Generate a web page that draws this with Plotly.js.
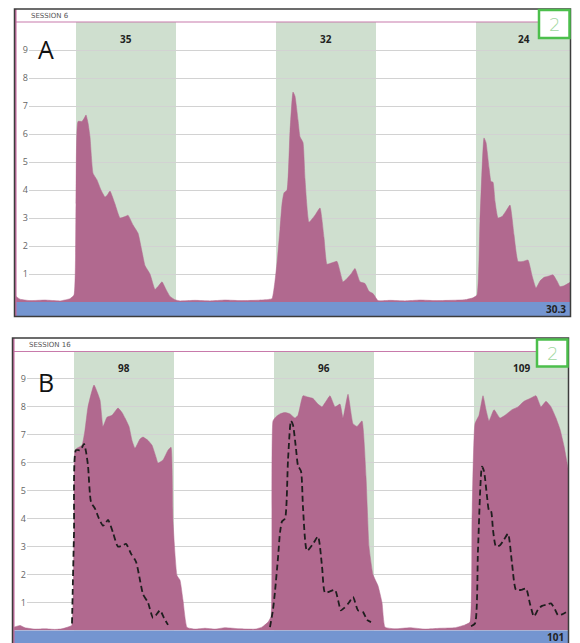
<!DOCTYPE html>
<html><head><meta charset="utf-8">
<script src="https://cdn.plot.ly/plotly-3.0.1.min.js"></script>
<style>html,body{margin:0;padding:0;background:#fff;} #chart{width:580px;height:643px;}</style>
</head><body><div id="chart"></div>
<script>
// ---------------- data ----------------
const sessionLabels = ['SESSION 6', 'SESSION 16'];
const panelLetters = ['A', 'B'];
const trialStarts = [12, 52, 92];
const trialDuration = 20;
const timeMax = 111;
const trialValuesA = [35, 32, 24];
const trialValuesB = [98, 96, 109];
const summaryA = '30.3';
const summaryB = '101';
const yTickVals = [1, 2, 3, 4, 5, 6, 7, 8, 9];
const yRange = [0, 10];
const boxDigit = '2';

// session 6 (panel A; also the dashed overlay in panel B)
const timeA = [0,0.8,2.8,5.8,8.8,10.8,11.6,12,12.4,13.2,13.6,14,14.4,14.8,15.4,16.2,17,17.8,18.2,18.8,19.8,20.8,21.8,22.4,23.4,24.4,25.2,25.8,26.8,27.8,28.4,29.2,30,30.8,31.8,32.8,35.8,38.8,41.8,44.8,47.8,49.8,51.2,51.8,52.2,52.8,53.2,53.6,54.2,54.8,55.4,55.8,56.4,56.8,57.4,57.8,58.6,59.8,60.8,61.6,62.2,63.2,64.2,65.4,66,67,67.8,68.8,69.8,70.6,71.4,72.4,74.8,77.8,80.8,83.8,86.8,89.8,91.4,92.2,92.8,93.6,94,94.6,95,95.4,95.8,96.4,97.2,98,98.8,99.6,100.4,101.4,102.4,103.2,104,104.8,105.6,106.6,107.4,108.2,108.8,109.6,111];
const valuesA = [0.2,0.1,0.05,0.07,0.04,0.12,0.25,3.5,6.45,6.45,6.55,6.68,6.4,5.9,4.6,4.36,4.0,3.75,3.8,3.96,3.5,3.0,3.05,3.1,2.75,2.46,1.8,1.3,1.0,0.45,0.55,0.72,0.45,0.2,0.08,0.04,0.06,0.04,0.07,0.05,0.06,0.08,0.12,0.75,1.4,2.6,3.5,3.9,4.0,6.1,7.5,7.35,6.5,5.9,5.7,4.4,2.85,3.1,3.36,2.3,1.35,1.4,1.45,0.72,0.8,1.0,1.2,0.72,0.66,0.38,0.3,0.05,0.06,0.04,0.07,0.05,0.06,0.08,0.15,0.25,2.9,5.86,5.7,4.8,4.3,4.28,3.6,3.0,3.05,3.25,3.46,2.4,1.45,1.45,1.5,0.95,0.5,0.75,0.88,0.93,0.97,0.75,0.55,0.58,0.72];

// session 16 (panel B)
const timeB = [0,1.2,2.2,4.2,6.2,8.2,9.6,11.2,11.6,12,12.2,12.6,13.6,14.2,14.8,16,17.2,17.8,18.6,19.6,20.8,21.6,22.2,23,23.6,24.2,25.2,25.8,26.8,27.6,28.4,28.8,29.8,30.8,31.4,31.8,32.6,33.2,33.8,34.6,36.2,38.2,40.2,42.2,45.2,48.2,49.6,50.8,51.4,51.8,52.4,53.2,54.2,55.2,56.2,56.8,57.8,58.8,59.8,60.8,61.6,62.4,63.2,64.2,65.2,65.8,66.8,67.8,68.6,69.6,70.4,71,71.8,72.8,73.6,74.2,76.2,79.2,82.2,85.2,88.2,90.2,91.2,91.6,92.2,93,93.8,94.4,95,96,97.2,98.2,99.6,100.8,102,103.2,104.4,105.4,106.4,107.4,108.4,109.2,110,111];
const valuesB = [0.12,0.18,0.1,0.05,0.06,0.04,0.06,0.15,0.2,3.5,6.45,6.52,6.63,7.17,8.0,8.78,8.24,7.3,7.63,7.7,7.96,7.8,7.6,7.3,6.8,6.52,6.85,6.92,6.8,6.63,6.2,5.99,6.1,6.45,6.56,3.9,1.97,1.8,1.08,0.11,0.05,0.08,0.05,0.1,0.06,0.05,0.12,0.3,0.5,7.5,7.65,7.75,7.8,7.75,7.6,7.7,8.4,8.35,8.3,8.1,8.0,8.2,8.4,8.0,8.1,7.6,8.45,7.4,7.3,7.5,5.5,3.0,2.0,1.6,1.0,0.12,0.06,0.1,0.05,0.08,0.1,0.2,0.3,4.0,7.4,7.7,8.4,7.9,7.5,7.9,7.6,7.7,7.9,8.0,8.2,8.3,8.4,8.0,8.2,8.0,7.6,7.2,6.6,5.6];

// ---------------- styling / geometry ----------------
const W = 580, H = 643;
const PINK = '#b1698f', GREEN_BAND = '#cfdfcf', BLUE = '#7495d0';
const FRAME = '#3c3c3c', PINK_LINE = '#c87aab', BOX_GREEN = '#4cbf4c';
const fx = p => p / W;
const fy = p => 1 - p / H;

const panels = [
  {frameL: 14.5, frameR: 570.5, frameT: 9, frameB: 316.5, header: 22, dataL: 16, gridL: 29, right: 571,
   plotT: 22, plotB: 302, barB: 316, boxL: 539, boxR: 569.5, boxT: 10, boxB: 38,
   ids: ['', '2'], time: timeA, values: valuesA, trialVals: trialValuesA, summary: summaryA,
   session: sessionLabels[0], letter: panelLetters[0], sessionX: 29, sessionY: 15.5, letterX: 46.5, letterY: 49, numY: 38.5},
  {frameL: 12.5, frameR: 568.5, frameT: 338, frameB: 644, header: 351.5, dataL: 14, gridL: 27, right: 569,
   plotT: 351, plotB: 630.5, barB: 643, boxL: 537, boxR: 567.5, boxT: 339.5, boxB: 366.5,
   ids: ['3', '4'], time: timeB, values: valuesB, trialVals: trialValuesB, summary: summaryB,
   session: sessionLabels[1], letter: panelLetters[1], sessionX: 27, sessionY: 344.5, letterX: 46, letterY: 382, numY: 367.5}
];

// dashed overlay (session 6 during trials), shown in panel B
const dashedY = timeA.map((t, i) => trialStarts.some(s => t >= s - 1 && t <= s + trialDuration - 0.5) ? valuesA[i] : null);

const traces = [];
const layout = {
  width: W, height: H, margin: {l: 0, r: 0, t: 0, b: 0},
  paper_bgcolor: '#ffffff', plot_bgcolor: 'rgba(0,0,0,0)', showlegend: false,
  shapes: [], annotations: []
};

const hiddenX = {showgrid: false, zeroline: false, showline: false, showticklabels: false, ticks: '', fixedrange: true};

panels.forEach((p, k) => {
  const [g, d] = p.ids;
  const gx = 'x' + g, gy = 'y' + g, dx = 'x' + d, dy = 'y' + d;
  const ydom = [fy(p.plotB), fy(p.plotT)];
  const pxPerUnit = (p.right - p.dataL) / timeMax;
  const gridStart = (p.gridL - p.dataL) / pxPerUnit;

  layout['xaxis' + g] = Object.assign({}, hiddenX, {domain: [fx(p.gridL), fx(p.right)], range: [gridStart, timeMax], anchor: gy});
  layout['yaxis' + g] = {domain: ydom, range: yRange, anchor: gx, tickmode: 'array', tickvals: yTickVals,
    showgrid: true, gridcolor: '#d2d2d2', gridwidth: 1, zeroline: false, showline: false, ticks: '',
    tickfont: {family: 'Open Sans', size: 9, color: '#666'}, fixedrange: true};
  layout['xaxis' + d] = Object.assign({}, hiddenX, {domain: [fx(p.dataL), fx(p.right)], range: [0, timeMax], anchor: dy});
  layout['yaxis' + d] = Object.assign({}, hiddenX, {domain: ydom, range: yRange, anchor: dx});

  // grid subplot placeholder trace (drawn first)
  traces.push({x: [], y: [], xaxis: gx, yaxis: gy, type: 'scatter', mode: 'lines', hoverinfo: 'skip'});
  // area
  traces.push({x: p.time, y: p.values, xaxis: dx, yaxis: dy, type: 'scatter', mode: 'lines',
    fill: 'tozeroy', fillcolor: PINK, line: {color: PINK, width: 0.5, shape: 'spline', smoothing: 0.4}, hoverinfo: 'skip'});
  if (k === 1) {
    traces.push({x: timeA, y: dashedY, xaxis: dx, yaxis: dy, type: 'scatter', mode: 'lines', connectgaps: false,
      line: {color: '#1e1e1e', width: 1.8, dash: '6px,3.5px', shape: 'spline', smoothing: 0.6}, hoverinfo: 'skip'});
  }

  // trial bands + counts
  trialStarts.forEach((s, i) => {
    const e = Math.min(s + trialDuration, timeMax);
    layout.shapes.push({type: 'rect', xref: gx, yref: gy, x0: s, x1: e, y0: yRange[0], y1: yRange[1],
      fillcolor: GREEN_BAND, line: {width: 0}, layer: 'below'});
    layout.annotations.push({xref: dx, yref: 'paper', x: (s + e) / 2, y: fy(p.numY), text: String(p.trialVals[i]),
      showarrow: false, xanchor: 'center', yanchor: 'middle', font: {family: 'Open Sans', size: 10, color: '#222', weight: 700}});
  });

  // summary bar
  layout.shapes.push({type: 'rect', xref: 'paper', yref: 'paper', x0: fx(p.dataL), x1: fx(p.frameR), y0: fy(p.barB), y1: fy(p.plotB),
    fillcolor: BLUE, line: {width: 0}, layer: 'above'});
  layout.annotations.push({xref: 'paper', yref: 'paper', x: fx(p.frameR - 3), y: fy((p.plotB + p.barB) / 2), text: p.summary,
    showarrow: false, xanchor: 'right', yanchor: 'middle', font: {family: 'Open Sans', size: 10, color: '#222', weight: 700}});

  // header separator and left pink line
  layout.shapes.push({type: 'line', xref: 'paper', yref: 'paper', x0: fx(p.dataL), x1: fx(p.boxL), y0: fy(p.header), y1: fy(p.header),
    line: {color: PINK_LINE, width: 1.2}, layer: 'above'});
  layout.shapes.push({type: 'line', xref: 'paper', yref: 'paper', x0: fx(p.frameL + 1.3), x1: fx(p.frameL + 1.3), y0: fy(p.frameT), y1: fy(p.frameB),
    line: {color: '#c56b9f', width: 1.5}, layer: 'above'});
  // outer frame
  layout.shapes.push({type: 'rect', xref: 'paper', yref: 'paper', x0: fx(p.frameL), x1: fx(p.frameR), y0: fy(p.frameB), y1: fy(p.frameT),
    line: {color: FRAME, width: 1.5}, fillcolor: 'rgba(0,0,0,0)', layer: 'above'});
  // green box
  layout.shapes.push({type: 'rect', xref: 'paper', yref: 'paper', x0: fx(p.boxL), x1: fx(p.boxR), y0: fy(p.boxB), y1: fy(p.boxT),
    line: {color: BOX_GREEN, width: 2.5}, fillcolor: '#ffffff', layer: 'above'});
  layout.annotations.push({xref: 'paper', yref: 'paper', x: fx((p.boxL + p.boxR) / 2), y: fy((p.boxT + p.boxB) / 2), text: boxDigit,
    showarrow: false, xanchor: 'center', yanchor: 'middle', font: {family: 'DejaVu Sans', size: 18, color: '#9fd89f', weight: 200}});

  // session label, panel letter
  layout.annotations.push({xref: 'paper', yref: 'paper', x: fx(p.sessionX), y: fy(p.sessionY), text: p.session,
    showarrow: false, xanchor: 'left', yanchor: 'middle', font: {family: 'DejaVu Sans', size: 7, color: '#555'}});
  layout.annotations.push({xref: 'paper', yref: 'paper', x: fx(p.letterX), y: fy(p.letterY), text: p.letter,
    showarrow: false, xanchor: 'center', yanchor: 'middle', font: {family: 'Open Sans', size: 25, color: '#111'}});
});

Plotly.newPlot('chart', traces, layout, {staticPlot: true, displayModeBar: false});
</script>
</body></html>
